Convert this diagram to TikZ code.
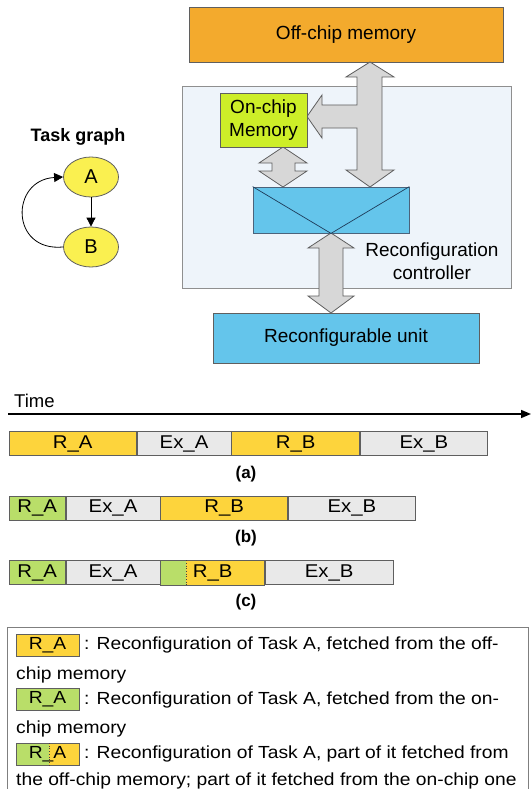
\documentclass[tikz,border=0pt]{standalone}
\usepackage{fontspec}
\setmainfont{Liberation Sans}
\newfontfamily\wf[FakeStretch=1.1]{Liberation Sans}
\usetikzlibrary{calc,arrows.meta,shapes.geometric}
\definecolor{offc}{RGB}{243,170,45}
\definecolor{onc}{RGB}{205,238,40}
\definecolor{ctrlblue}{RGB}{100,197,235}
\definecolor{panel}{RGB}{238,244,250}
\definecolor{arrgray}{RGB}{215,215,215}
\definecolor{ryel}{RGB}{253,212,60}
\definecolor{rgrn}{RGB}{185,222,105}
\definecolor{exg}{RGB}{233,233,233}
\definecolor{nodey}{RGB}{250,240,80}
\definecolor{edgec}{RGB}{95,95,95}
\definecolor{vline}{RGB}{30,60,90}
\begin{document}
\begin{tikzpicture}[x=1pt,y=-1pt,
  blk/.style={draw=edgec, line width=0.8pt, inner sep=0pt, align=center, font=\fontsize{19}{23}\selectfont},
  bigarrow/.style={fill=arrgray, draw=edgec, line width=0.8pt, line join=miter},
  cell/.style={draw=edgec, line width=0.7pt, inner sep=0pt, minimum height=24pt, anchor=west, font=\wf\fontsize{18.5}{20}\selectfont},
  lbox/.style={draw=edgec, line width=0.7pt, inner sep=0pt, minimum width=63pt, minimum height=22pt, font=\wf\fontsize{17.5}{20}\selectfont},
  ltext/.style={anchor=west, inner sep=0pt, font=\wf\fontsize{17.5}{20}\selectfont},
  tnode/.style={ellipse, draw=edgec, line width=0.8pt, fill=nodey, minimum width=55pt, minimum height=40pt, inner sep=0pt, font=\fontsize{20}{22}\selectfont},
  sublabel/.style={font=\bfseries\fontsize{17}{20}\selectfont, inner sep=0pt}
]
\useasboundingbox (0,0) rectangle (532,789);
\fill[white] (0,0) rectangle (532,789);

% ---- architecture ----
\node[blk, draw=edgec!70, fill=panel, minimum width=329pt, minimum height=202pt] (panel) at (346.5,187) {};
\node[blk, fill=offc, minimum width=314pt, minimum height=55pt] (off) at (346,34.5) {Off-chip memory};

\draw[bigarrow] (370,62) -- (394,77) -- (382,77) -- (382,170) -- (394,170) -- (370,187)
  -- (346,170) -- (357,170) -- (357,128) -- (322,128) -- (322,138) -- (307,116.5)
  -- (322,95) -- (322,105) -- (357,105) -- (357,77) -- (346,77) -- cycle;
\draw[bigarrow] (283,147) -- (307,163) -- (295,163) -- (295,171) -- (307,171) -- (283,187)
  -- (259,171) -- (272,171) -- (272,163) -- (259,163) -- cycle;
\draw[bigarrow] (331,233) -- (354,248) -- (343,248) -- (343,296) -- (354,296) -- (331,313)
  -- (308,296) -- (319,296) -- (319,248) -- (308,248) -- cycle;

\node[blk, fill=onc, minimum width=87pt, minimum height=54pt] (on) at (263.5,120) {On-chip\\Memory};
\node[blk, draw=vline!80, fill=ctrlblue, minimum width=156pt, minimum height=46pt] (ctrl) at (331,210) {};
\draw[vline, line width=0.7pt] (ctrl.north west) -- (ctrl.south) -- (ctrl.north east);
\node[align=center, inner sep=0pt, font=\fontsize{19}{23}\selectfont] (ctrllab) at (432,261.5) {Reconfiguration\\controller};
\node[blk, fill=ctrlblue, minimum width=266pt, minimum height=50pt] (unit) at (346,338) {Reconfigurable unit};

% ---- task graph ----
\node[inner sep=0pt, font=\bfseries\fontsize{18}{20}\selectfont] (tg) at (78,137) {Task graph};
\node[tnode] (A) at (91,177) {A};
\node[tnode] (B) at (91,247) {B};
\draw[line width=0.8pt, -{Triangle[length=9pt,width=9pt]}] (A) -- (B);
\draw[line width=0.8pt, -{Triangle[length=9pt,width=9pt]}] (B.west) .. controls (10,252) and (10,180) .. (A.west);

% ---- timeline ----
\node[anchor=west, inner sep=0pt, font=\fontsize{18.5}{20}\selectfont] (time) at (14,401) {Time};
\coordinate (t0) at (8,414);
\coordinate (t1) at (531,414);
\draw[line width=1.6pt, -{Triangle[length=10pt,width=8pt]}] (t0) -- (t1);

\node[cell, fill=ryel, minimum width=127.4pt] (a1) at (8.6,443.5) {R\_A};
\node[cell, fill=exg, minimum width=94pt] (a2) at (a1.east) {Ex\_A};
\node[cell, fill=ryel, minimum width=128pt] (a3) at (a2.east) {R\_B};
\node[cell, fill=exg, minimum width=127pt] (a4) at (a3.east) {Ex\_B};
\node[sublabel] (la) at (246,474) {(a)};

\node[cell, fill=rgrn, minimum width=56.4pt] (b1) at (8.6,508) {R\_A};
\node[cell, fill=exg, minimum width=94pt] (b2) at (b1.east) {Ex\_A};
\node[cell, fill=ryel, minimum width=127pt] (b3) at (b2.east) {R\_B};
\node[cell, fill=exg, minimum width=127pt] (b4) at (b3.east) {Ex\_B};
\node[sublabel] (lb) at (246,538) {(b)};

\node[cell, fill=rgrn, minimum width=56.4pt] (c1) at (8.6,572.5) {R\_A};
\node[cell, fill=exg, minimum width=94pt] (c2) at (c1.east) {Ex\_A};
\node[cell, draw=none, fill=rgrn, minimum width=25pt] (c3) at (c2.east) {};
\node[cell, draw=none, fill=ryel, minimum width=78pt] (c4) at (c3.east) {};
\draw[edgec, line width=0.7pt] (c3.north west) rectangle (c4.south east);
\draw[edgec!70!black, line width=0.7pt, dotted] (c3.north east) -- (c3.south east);
\node[inner sep=0pt, font=\wf\fontsize{18.5}{20}\selectfont] (c34) at ($(c3.west)!0.5!(c4.east)$) {R\_B};
\node[cell, fill=exg, minimum width=128pt] (c5) at (c4.east) {Ex\_B};
\node[sublabel] (lc) at (246,602) {(c)};

% ---- legend ----
\draw[edgec!80, line width=0.8pt] (7,795) -- (7,627) -- (528,627) -- (528,795);
\node[lbox, fill=ryel] (k1) at (47.5,645) {R\_A};
\node[ltext] (k1t) at (84,645) {: Reconfiguration of Task A, fetched from the off-};
\node[ltext] (k1u) at (16,675) {chip memory};
\node[lbox, fill=rgrn] (k2) at (47.5,699.5) {R\_A};
\node[ltext] (k2t) at (84,699.5) {: Reconfiguration of Task A, fetched from the on-};
\node[ltext] (k2u) at (16,729) {chip memory};
\fill[rgrn] (16,743) rectangle (49,765);
\fill[ryel] (49,743) rectangle (79,765);
\node[lbox] (k3) at (47.5,754) {R\_A};
\draw[edgec!70!black, line width=0.7pt, dotted] (49,743) -- (49,765);
\node[ltext] (k3t) at (84,754) {: Reconfiguration of Task A, part of it fetched from};
\node[ltext] (k3u) at (16,781) {the off-chip memory; part of it fetched from the on-chip one};
\end{tikzpicture}
\end{document}
